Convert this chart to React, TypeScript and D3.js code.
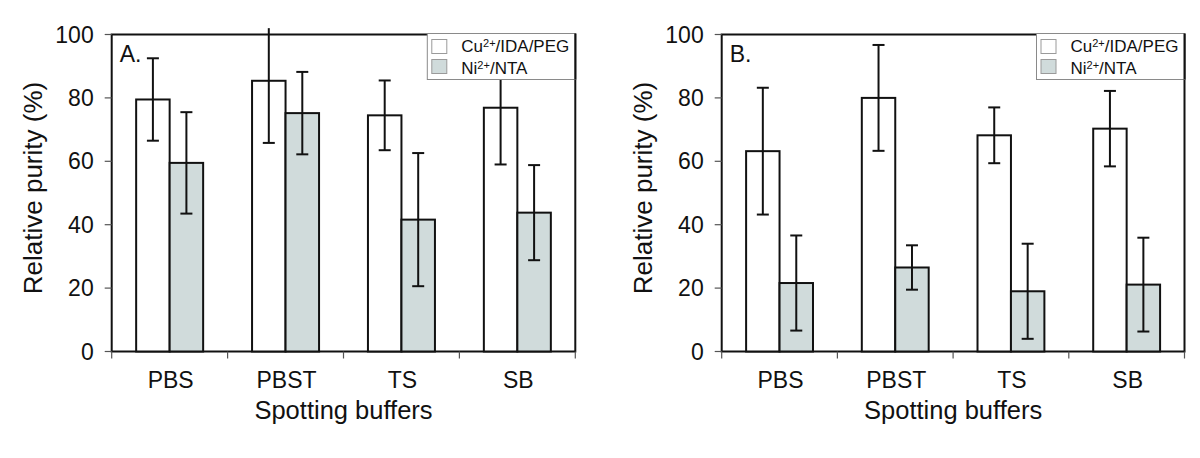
import React from "react";
import * as d3 from "d3";

const categories = ["PBS", "PBST", "TS", "SB"];
const seriesKeys = ["cu", "ni"];
const yTicks = [0, 20, 40, 60, 80, 100];

const aCu = [79.5, 85.4, 74.5, 76.9];
const aCuErr = [13, 19.6, 11, 17.9];
const aNi = [59.5, 75.2, 41.6, 43.8];
const aNiErr = [16, 13, 21, 15];

const bCu = [63.2, 80, 68.2, 70.3];
const bCuErr = [20, 16.7, 8.8, 11.9];
const bNi = [21.6, 26.5, 19, 21.1];
const bNiErr = [15, 7, 15, 14.8];

const errClipMax = 102;

const FONT = "'Liberation Sans', Arial, Helvetica, sans-serif";
const GRAY = "#d0dbdb";

type PanelProps = {
  label: string;
  cu: number[];
  cuErr: number[];
  ni: number[];
  niErr: number[];
  x0: number;
  x1: number;
};

function Panel({ label, cu, cuErr, ni, niErr, x0, x1 }: PanelProps) {
  const yTop = 34.5;
  const yBot = 351.5;
  const y = d3.scaleLinear().domain([0, 100]).range([yBot, yTop]);
  const x = d3.scaleBand<string>().domain(categories).range([x0, x1]).padding(0);
  const inner = d3
    .scaleBand<string>()
    .domain(seriesKeys)
    .range([0, x.bandwidth()])
    .paddingInner(0)
    .paddingOuter(0.73);
  const data: Record<string, { v: number[]; e: number[]; fill: string }> = {
    cu: { v: cu, e: cuErr, fill: "#ffffff" },
    ni: { v: ni, e: niErr, fill: GRAY },
  };
  const bounds = [...categories.map((c) => x(c) as number), x1];
  const capW = 12;

  const legW = 148;
  const legH = 46;
  const legX = x1 - legW;
  const legY = yTop - 1;

  return (
    <g>
      {/* frame */}
      <rect x={x0} y={yTop} width={x1 - x0} height={yBot - yTop} fill="none" stroke="#111" strokeWidth={2} />
      {/* y ticks */}
      {yTicks.map((t) => (
        <g key={t}>
          <line x1={x0 - 7} x2={x0} y1={y(t)} y2={y(t)} stroke="#555" strokeWidth={1.2} />
          <text x={x0 - 18} y={y(t)} dy="0.35em" textAnchor="end" fontSize={23} fontFamily={FONT} fill="#111">
            {t}
          </text>
        </g>
      ))}
      {/* x ticks */}
      {bounds.map((b, i) => (
        <line key={i} x1={b} x2={b} y1={yBot} y2={yBot + 7} stroke="#555" strokeWidth={1.2} />
      ))}
      {categories.map((c) => (
        <text
          key={c}
          x={(x(c) as number) + x.bandwidth() / 2 + 1}
          y={yBot + 36}
          textAnchor="middle"
          fontSize={23}
          fontFamily={FONT}
          fill="#111"
        >
          {c}
        </text>
      ))}
      <text x={(x0 + x1) / 2} y={yBot + 67} textAnchor="middle" fontSize={25.5} fontFamily={FONT} fill="#111">
        Spotting buffers
      </text>
      <text
        transform={`translate(${x0 - 70},${(yTop + yBot) / 2 - 5}) rotate(-90)`}
        textAnchor="middle"
        fontSize={26}
        fontFamily={FONT}
        fill="#111"
      >
        Relative purity (%)
      </text>
      {/* bars */}
      {categories.map((c, i) =>
        seriesKeys.map((s) => {
          const bx = (x(c) as number) + (inner(s) as number);
          const v = data[s].v[i];
          return (
            <rect
              key={c + s}
              x={bx}
              y={y(v)}
              width={inner.bandwidth()}
              height={y(0) - y(v)}
              fill={data[s].fill}
              stroke="#111"
              strokeWidth={2}
            />
          );
        })
      )}
      {/* error bars */}
      {categories.map((c, i) =>
        seriesKeys.map((s) => {
          const cx = (x(c) as number) + (inner(s) as number) + inner.bandwidth() / 2;
          const v = data[s].v[i];
          const e = data[s].e[i];
          const hi = v + e;
          const clipped = hi > errClipMax;
          const yHi = y(clipped ? errClipMax : hi);
          const yLo = y(v - e);
          return (
            <g key={"e" + c + s} stroke="#111" strokeWidth={2}>
              <line x1={cx} x2={cx} y1={yHi} y2={yLo} />
              {!clipped && <line x1={cx - capW / 2} x2={cx + capW / 2} y1={yHi} y2={yHi} />}
              <line x1={cx - capW / 2} x2={cx + capW / 2} y1={yLo} y2={yLo} />
            </g>
          );
        })
      )}
      {/* panel label */}
      <text x={x0 + 8} y={yTop + 27} fontSize={23} fontFamily={FONT} fill="#111">
        {label}
      </text>
      {/* legend */}
      <g>
        <rect x={legX} y={legY} width={legW} height={legH} fill="#fff" stroke="#8a8a8a" strokeWidth={1} />
        <line x1={x1} x2={x1} y1={legY} y2={legY + legH} stroke="#111" strokeWidth={2} />
        <rect x={legX + 4.5} y={legY + 6} width={15} height={14} fill="#fff" stroke="#9a9a9a" strokeWidth={1} />
        <rect x={legX + 4.5} y={legY + 26} width={15} height={14} fill={GRAY} stroke="#9a9a9a" strokeWidth={1} />
        <text x={legX + 34} y={legY + 18.5} fontSize={17} fontFamily={FONT} fill="#111">
          Cu
          <tspan fontSize={11} dy={-5}>
            2+
          </tspan>
          <tspan dy={5}>/IDA/PEG</tspan>
        </text>
        <text x={legX + 34} y={legY + 40} fontSize={17} fontFamily={FONT} fill="#111">
          Ni
          <tspan fontSize={11} dy={-5}>
            2+
          </tspan>
          <tspan dy={5}>/NTA</tspan>
        </text>
      </g>
    </g>
  );
}

export default function App() {
  return (
    <svg
      width={1200}
      height={458}
      style={{ position: "absolute", left: 0, top: 0, background: "#fff" }}
    >
      <rect width={1200} height={458} fill="#fff" />
      <Panel label="A." cu={aCu} cuErr={aCuErr} ni={aNi} niErr={aNiErr} x0={111.7} x1={575.3} />
      <Panel label="B." cu={bCu} cuErr={bCuErr} ni={bNi} niErr={bNiErr} x0={721.7} x1={1184.5} />
    </svg>
  );
}
